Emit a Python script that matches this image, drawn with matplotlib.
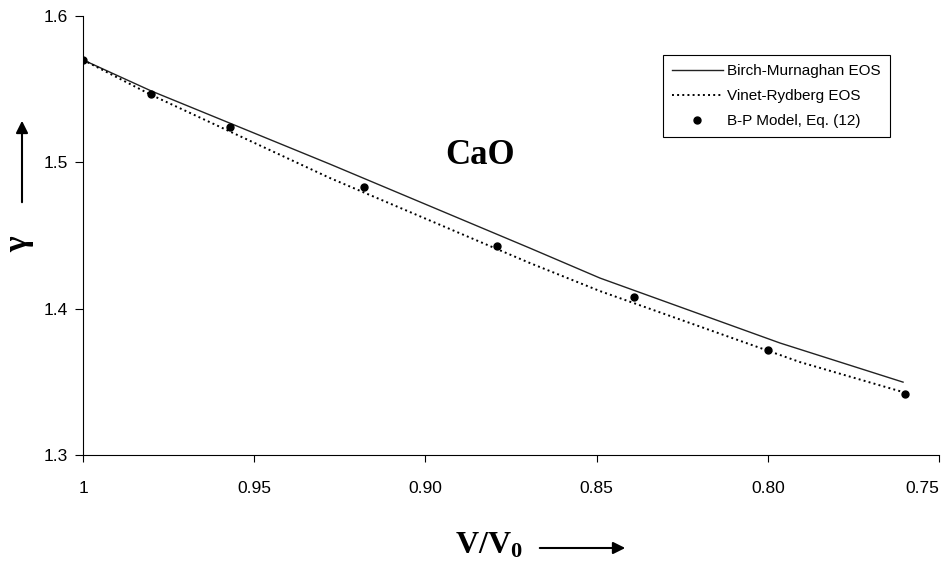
import matplotlib
matplotlib.use('Agg')
import matplotlib.pyplot as plt
from matplotlib.patches import FancyArrowPatch

# Birch-Murnaghan EOS (solid line)
x_bm = [1.0, 0.980, 0.9279, 0.8695, 0.849, 0.7964, 0.7605]
y_bm = [1.570, 1.5487, 1.4988, 1.4414, 1.4209, 1.3765, 1.3498]

# Vinet-Rydberg EOS (dotted line)
x_vr = [1.0, 0.980, 0.9279, 0.8695, 0.849, 0.7906, 0.7605]
y_vr = [1.570, 1.546, 1.4893, 1.4312, 1.412, 1.3635, 1.343]

# B-P model points
x_bp = [1.0, 0.980, 0.957, 0.918, 0.879, 0.839, 0.800, 0.760]
y_bp = [1.570, 1.547, 1.524, 1.483, 1.443, 1.408, 1.372, 1.342]

xticks = [1.0, 0.95, 0.90, 0.85, 0.80, 0.75]
xtick_labels = ['1', '0.95', '0.90', '0.85', '0.80', '0.75']
yticks = [1.3, 1.4, 1.5, 1.6]
ytick_labels = ['1.3', '1.4', '1.5', '1.6']

plt.rcParams['font.family'] = ['Liberation Sans', 'DejaVu Sans']
plt.rcParams['mathtext.fontset'] = 'custom'
plt.rcParams['mathtext.rm'] = 'Liberation Serif:bold'
plt.rcParams['mathtext.bf'] = 'Liberation Serif:bold'
plt.rcParams['mathtext.it'] = 'Liberation Serif:bold'

fig = plt.figure(figsize=(9.46, 5.64), dpi=100)
ax = fig.add_axes([83/946, 1-455/564, (939-83)/946, (455-16)/564])

ax.plot(x_bm, y_bm, '-', color='#222222', lw=1.0, label='Birch-Murnaghan EOS')
ax.plot(x_vr, y_vr, ':', color='black', lw=1.4, label='Vinet-Rydberg EOS')
ax.plot(x_bp, y_bp, 'o', color='black', ms=5, label='B-P Model, Eq. (12)')

ax.set_xlim(1.0, 0.75)
ax.set_ylim(1.3, 1.6)
ax.set_xticks(xticks)
ax.set_xticklabels(xtick_labels)
ax.set_yticks(yticks)
ax.set_yticklabels(ytick_labels)
ax.spines['top'].set_visible(False)
ax.spines['right'].set_visible(False)
ax.tick_params(axis='x', direction='out', length=5, pad=14, labelsize=12.5)
ax.tick_params(axis='y', direction='out', length=6, pad=5, labelsize=12.5)
ax.get_xticklabels()[-1].set_ha('right')

ax.text(0.884, 1.505, 'CaO', fontsize=25, fontweight='bold',
        family='Liberation Serif', ha='center', va='center')

leg = ax.legend(loc='upper left', bbox_to_anchor=(663/946, 1-55/564),
                bbox_transform=fig.transFigure, borderaxespad=0,
                fontsize=11, fancybox=False, edgecolor='black',
                framealpha=1, handlelength=3.3, handletextpad=0.3,
                labelspacing=0.72, borderpad=0.6)
leg.get_frame().set_linewidth(0.8)

# axis labels with arrows
fig.text(20/946, 1-243/564, r'$\gamma$', fontsize=24, rotation=90,
         ha='center', va='center')
fig.text(489/946, 1-545/564, r'$\mathrm{V/V_0}$', fontsize=23,
         ha='center', va='center')
fig.add_artist(FancyArrowPatch(
    (22/946, 1-205/564), (22/946, 1-118/564), transform=fig.transFigure,
    arrowstyle='-|>', mutation_scale=18, lw=1.5, color='black'))
fig.add_artist(FancyArrowPatch(
    (537/946, 1-548/564), (628/946, 1-548/564), transform=fig.transFigure,
    arrowstyle='-|>', mutation_scale=18, lw=1.5, color='black'))

fig.savefig('out.png', dpi=100)
